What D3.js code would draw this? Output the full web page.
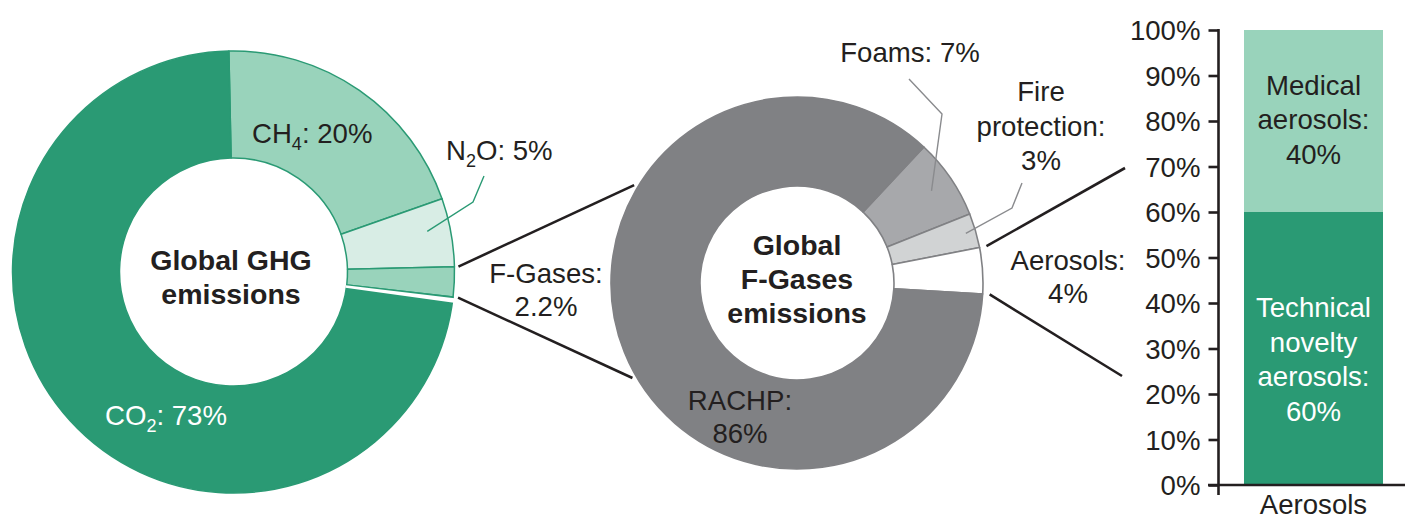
<!DOCTYPE html>
<html><head><meta charset="utf-8">
<script src="https://cdn.jsdelivr.net/npm/d3@7"></script>
<style>
html,body{margin:0;padding:0;background:#fff;}
svg{display:block;font-family:"Liberation Sans",Arial,Helvetica,sans-serif;}
</style></head><body>
<svg id="chart" width="1405" height="520"></svg>
<script>
// Share of global greenhouse-gas emissions by gas (%)
const ghgGases = ["CH4", "N2O", "F-Gases", "CO2"];
const ghgShares = [20, 5, 2.2, 73];
// F-gas emissions by application (%)
const fgasSectors = ["Foams", "Fire protection", "Aerosols", "RACHP"];
const fgasShares = [7, 3, 4, 86];
// Aerosol F-gas emissions by type (%)
const aerosolTypes = ["Technical novelty aerosols", "Medical aerosols"];
const aerosolShares = [60, 40];
const aerosolCategory = ["Aerosols"];
const percentTicks = [0, 10, 20, 30, 40, 50, 60, 70, 80, 90, 100];

const ink = "#231f20";
const green = "#2a9a74", greenLight = "#99d3bb", greenPale = "#d8ede5";
const ghgColors = [greenLight, greenPale, greenLight, green];
const fgasColors = ["#a7a8ab", "#d1d3d4", "#ffffff", "#808184"];
const aerosolColors = [green, greenLight];
const FS = 27.6;
const deg = Math.PI / 180;

const svg = d3.select("#chart");
const polar = (c, r, a) => [c[0] + r * Math.sin(a), c[1] - r * Math.cos(a)];
const line = d3.line();

// Writes "CH4" style chemical names with subscript digits
function chemLabel(sel, name, rest) {
  const parts = name.split(/(\d+)/).filter(s => s.length);
  let lowered = false;
  parts.forEach(p => {
    if (/^\d+$/.test(p)) {
      sel.append("tspan").attr("font-size", 18).attr("dy", 7).text(p);
      lowered = true;
    } else {
      sel.append("tspan").attr("dy", lowered ? -7 : 0).text(p);
      lowered = false;
    }
  });
  sel.append("tspan").attr("dy", lowered ? -7 : 0).text(rest);
}
function multiLine(x, baseline, lines, step, opts = {}) {
  const t = svg.append("text").attr("x", x).attr("y", baseline)
    .attr("text-anchor", opts.anchor || "middle")
    .attr("font-size", opts.size || FS)
    .attr("font-weight", opts.weight || "normal")
    .attr("fill", opts.fill || ink);
  lines.forEach((l, i) => t.append("tspan").attr("x", x).attr("dy", i ? step : 0).text(l));
  return t;
}

// ---- Global GHG donut ----
const c1 = [233.5, 272], R1 = 221, r1 = 114;
const start1 = -1.2 * deg;
const ghgArcs = d3.pie().sort(null).startAngle(start1).endAngle(start1 + 2 * Math.PI)(ghgShares);
const arc1 = d3.arc().innerRadius(r1).outerRadius(R1);
const g1 = svg.append("g").attr("transform", `translate(${c1})`);
g1.selectAll("path").data(ghgArcs).join("path")
  .attr("d", arc1).attr("fill", (d, i) => ghgColors[i])
  .attr("stroke", green).attr("stroke-width", 1.5).attr("stroke-linejoin", "round");
// white gap separating the F-gas slice from CO2
const fg = ghgArcs[2];
g1.append("path")
  .attr("d", d3.arc().innerRadius(r1 - 1).outerRadius(R1 + 1.5)
    .startAngle(fg.endAngle + 0.004).endAngle(fg.endAngle + 0.025)())
  .attr("fill", "#fff");

multiLine(231, 270, ["Global GHG", "emissions"], 34, { weight: "bold", size: 28.5 });
chemLabel(svg.append("text").attr("x", 252).attr("y", 143).attr("font-size", FS).attr("fill", ink), ghgGases[0], `: ${ghgShares[0]}%`);
chemLabel(svg.append("text").attr("x", 446).attr("y", 160).attr("font-size", FS).attr("fill", ink), ghgGases[1], `: ${ghgShares[1]}%`);
chemLabel(svg.append("text").attr("x", 105).attr("y", 425).attr("font-size", FS).attr("fill", "#fff"), ghgGases[3], `: ${ghgShares[3]}%`);
multiLine(546, 283, [`${ghgGases[2]}:`, `${ghgShares[2]}%`], 33);

// N2O leader
const n2o = ghgArcs[1];
svg.append("path")
  .attr("d", line([polar(c1, 198, (n2o.startAngle + n2o.endAngle) / 2 - 1.5 * deg), [473, 202], [484, 176]]))
  .attr("fill", "none").attr("stroke", green).attr("stroke-width", 1.4);

// ---- Global F-gases donut ----
const c2 = [797, 283], R2 = 186, r2 = 97;
const start2 = 43 * deg;
const fgasArcs = d3.pie().sort(null).startAngle(start2).endAngle(start2 + 2 * Math.PI)(fgasShares);
const arc2 = d3.arc().innerRadius(r2).outerRadius(R2);
const g2 = svg.append("g").attr("transform", `translate(${c2})`);
g2.selectAll("path").data(fgasArcs).join("path")
  .attr("d", arc2).attr("fill", (d, i) => fgasColors[i])
  .attr("stroke", "#808184").attr("stroke-width", 1.6).attr("stroke-linejoin", "round");

multiLine(797, 255, ["Global", "F-Gases", "emissions"], 34, { weight: "bold", size: 28.5 });
multiLine(740, 410, [`${fgasSectors[3]}:`, `${fgasShares[3]}%`], 33);
multiLine(910, 62, [`${fgasSectors[0]}: ${fgasShares[0]}%`], 33);
multiLine(1041, 101, ["Fire", "protection:", `${fgasShares[1]}%`], 34.5);
multiLine(1068, 270, [`${fgasSectors[2]}:`, `${fgasShares[2]}%`], 33);

// leaders for the small F-gas slices
const mid = d => (d.startAngle + d.endAngle) / 2;
svg.append("path")
  .attr("d", line([polar(c2, 163, mid(fgasArcs[0])), [942, 114], [909, 79]]))
  .attr("fill", "none").attr("stroke", "#8a8b8e").attr("stroke-width", 1.4);
svg.append("path")
  .attr("d", line([polar(c2, 176, mid(fgasArcs[1])), [1012, 208], [1022, 183]]))
  .attr("fill", "none").attr("stroke", "#8a8b8e").attr("stroke-width", 1.4);

// ---- connectors between the charts ----
const conn = (a, b) => svg.append("path").attr("d", line([a, b]))
  .attr("stroke", ink).attr("stroke-width", 2.6).attr("fill", "none");
conn(polar(c1, 225, fg.startAngle), polar(c2, 190, -59 * deg));
conn(polar(c1, 226, fg.endAngle), polar(c2, 190, 240 * deg));
const aer = fgasArcs[2];
conn(polar(c2, 193, aer.startAngle), [1125, 168]);
conn(polar(c2, 193, aer.endAngle), [1122, 376]);

// ---- Aerosols stacked bar ----
const y = d3.scaleLinear().domain([0, 100]).range([485, 30]);
const x = d3.scaleBand().domain(aerosolCategory).range([1218, 1409]).paddingInner(0).paddingOuter(0.187);
let acc = 0;
const stack = aerosolShares.map((v, i) => { const s = { y0: acc, y1: acc + v, v, i }; acc += v; return s; });
svg.append("g").selectAll("rect").data(stack).join("rect")
  .attr("x", x("Aerosols")).attr("width", x.bandwidth())
  .attr("y", d => y(d.y1)).attr("height", d => y(d.y0) - y(d.y1))
  .attr("fill", d => aerosolColors[d.i]);

const bx = x("Aerosols") + x.bandwidth() / 2;
const tech = stack[0], med = stack[1];
multiLine(bx, y((tech.y0 + tech.y1) / 2) - 31.5, ["Technical", "novelty", "aerosols:", `${tech.v}%`], 34.7, { fill: "#fff" });
multiLine(bx, y((med.y0 + med.y1) / 2) - 26.5, ["Medical", "aerosols:", `${med.v}%`], 34.5);

const yAxis = svg.append("g").attr("transform", "translate(1218.5,0)")
  .call(d3.axisLeft(y).tickValues(percentTicks).tickFormat(d => d + "%").tickSize(10).tickPadding(8).tickSizeOuter(0));
yAxis.select(".domain").remove();
yAxis.selectAll(".tick line").attr("stroke", ink).attr("stroke-width", 2.6);
yAxis.selectAll(".tick text").attr("fill", ink).attr("font-size", FS).attr("font-family", null).attr("dy", "0.35em");
svg.append("line").attr("x1", 1218.5).attr("x2", 1218.5).attr("y1", y(100) - 1).attr("y2", y(0) + 10)
  .attr("stroke", ink).attr("stroke-width", 2.6);
svg.append("line").attr("x1", 1208).attr("x2", 1405).attr("y1", y(0)).attr("y2", y(0))
  .attr("stroke", ink).attr("stroke-width", 2.6);
svg.append("text").attr("x", bx).attr("y", 514).attr("text-anchor", "middle")
  .attr("font-size", FS).attr("fill", ink).text(aerosolCategory[0]);
</script>
</body></html>
